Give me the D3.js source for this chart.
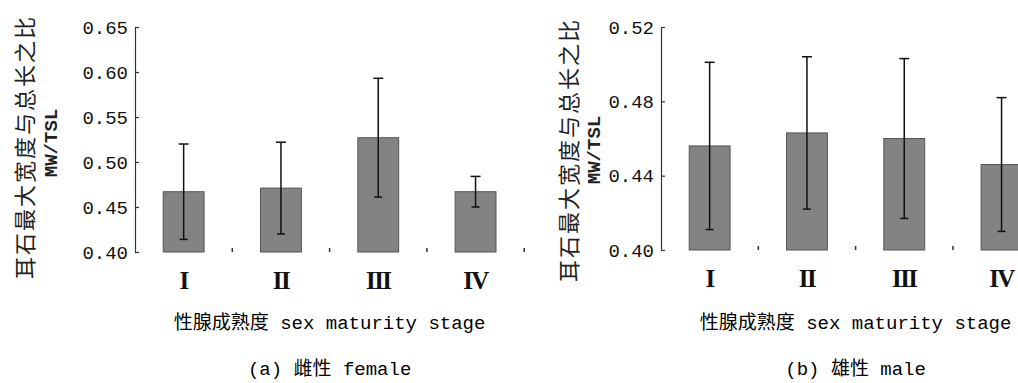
<!DOCTYPE html>
<html>
<head>
<meta charset="utf-8">
<script src="https://cdn.jsdelivr.net/npm/d3@7"></script>
<style>
  body { margin: 0; background: #fff; }
  svg { display: block; }
</style>
</head>
<body>
<div id="chart"></div>
<script>
// data
const stages = ["I", "II", "III", "IV"];
const femaleMean = [0.467, 0.471, 0.527, 0.467];
const femaleSd = [0.053, 0.051, 0.066, 0.017];
const maleMean = [0.456, 0.463, 0.460, 0.446];
const maleSd = [0.045, 0.041, 0.043, 0.036];
const femaleTicks = [0.40, 0.45, 0.50, 0.55, 0.60, 0.65];
const maleTicks = [0.40, 0.44, 0.48, 0.52];
const yTitle = "耳石最大宽度与总长之比";
const yUnit = "MW/TSL";
const xTitle = "性腺成熟度 sex maturity stage";

const W = 1018, H = 383;
const latin = "'Liberation Mono', 'Noto Sans CJK SC', monospace";
const cjk = "'Noto Sans CJK SC', 'Liberation Mono', sans-serif";

const svg = d3.select("#chart").append("svg")
  .attr("width", W).attr("height", H);

const drawPanel = (p) => {
  const g = svg.append("g");

  const y = d3.scaleLinear()
    .domain(d3.extent(p.ticks))
    .range([p.bottom, p.top]);

  const x = d3.scaleBand()
    .domain(stages)
    .range([p.left, p.left + 4 * 97.3])
    .paddingInner(0.58)
    .paddingOuter(0.29);

  // y axis, ticks pointing inward
  const yAxis = d3.axisLeft(y)
    .tickValues(p.ticks)
    .tickFormat(d3.format(".2f"))
    .tickSizeInner(-4)
    .tickSizeOuter(0)
    .tickPadding(7);

  const ya = g.append("g")
    .attr("transform", `translate(${p.left},0)`)
    .call(yAxis);
  ya.select(".domain").attr("stroke", "#333").attr("stroke-width", 1.2);
  ya.selectAll(".tick line").attr("stroke", "#333").attr("stroke-width", 1.2);
  ya.selectAll("text")
    .attr("font-family", latin)
    .attr("font-size", 19)
    .attr("fill", "#111");

  const rows = stages.map((s, i) => ({ s, m: p.mean[i], sd: p.sd[i] }));

  // bars
  g.selectAll("rect.bar").data(rows).enter()
    .append("rect")
    .attr("class", "bar")
    .attr("x", (d) => x(d.s))
    .attr("width", x.bandwidth())
    .attr("y", (d) => y(d.m))
    .attr("height", (d) => y(y.domain()[0]) - y(d.m))
    .attr("fill", "#838383")
    .attr("stroke", "#555")
    .attr("stroke-width", 1);

  // error bars
  const cx = (d) => x(d.s) + x.bandwidth() / 2;
  g.selectAll("line.err").data(rows).enter()
    .append("line")
    .attr("x1", cx).attr("x2", cx)
    .attr("y1", (d) => y(d.m + d.sd))
    .attr("y2", (d) => y(d.m - d.sd))
    .attr("stroke", "#111").attr("stroke-width", 1.5);
  g.selectAll("line.capTop").data(rows).enter()
    .append("line")
    .attr("x1", (d) => cx(d) - 5).attr("x2", (d) => cx(d) + 5)
    .attr("y1", (d) => y(d.m + d.sd)).attr("y2", (d) => y(d.m + d.sd))
    .attr("stroke", "#111").attr("stroke-width", 1.5);
  g.selectAll("line.capBot").data(rows).enter()
    .append("line")
    .attr("x1", (d) => cx(d) - 4).attr("x2", (d) => cx(d) + 4)
    .attr("y1", (d) => y(d.m - d.sd)).attr("y2", (d) => y(d.m - d.sd))
    .attr("stroke", "#111").attr("stroke-width", 1.5);

  // small ticks between categories on the baseline
  const base = y(y.domain()[0]);
  const bounds = stages.slice(1).map((s) => x(s) - x.step() * x.paddingInner() / 2)
    .concat([x(stages[3]) + x.bandwidth() + x.step() * x.paddingInner() / 2]);
  g.selectAll("line.xt").data(bounds).enter()
    .append("line")
    .attr("x1", (d) => d).attr("x2", (d) => d)
    .attr("y1", base - 4).attr("y2", base)
    .attr("stroke", "#333").attr("stroke-width", 1.5);

  // category labels
  g.selectAll("text.cat").data(stages).enter()
    .append("text")
    .attr("x", (d) => x(d) + x.bandwidth() / 2)
    .attr("y", base + 37)
    .attr("text-anchor", "middle")
    .attr("font-family", "'Liberation Serif', 'DejaVu Serif', serif")
    .attr("font-size", 25)
    .attr("font-weight", "bold")
    .attr("letter-spacing", -1.5)
    .attr("fill", "#111")
    .text((d) => d);

  const mid = (x.range()[0] + x.range()[1]) / 2;

  // x title and caption
  g.append("text")
    .attr("x", mid).attr("y", 329)
    .attr("text-anchor", "middle")
    .attr("font-family", latin)
    .attr("font-size", 19)
    .attr("fill", "#000")
    .text(xTitle);
  g.append("text")
    .attr("x", mid).attr("y", 375)
    .attr("text-anchor", "middle")
    .attr("font-family", latin)
    .attr("font-size", 19)
    .attr("fill", "#000")
    .text(p.caption);

  // rotated y titles
  g.append("text")
    .attr("transform", `translate(${p.t1x},${p.t1y}) rotate(-90)`)
    .attr("text-anchor", "middle")
    .attr("dominant-baseline", "central")
    .attr("font-family", cjk)
    .attr("font-size", 22)
    .attr("letter-spacing", 2)
    .attr("fill", "#222")
    .text(yTitle);
  g.append("text")
    .attr("transform", `translate(${p.t2x},${p.t2y}) rotate(-90)`)
    .attr("text-anchor", "middle")
    .attr("dominant-baseline", "central")
    .attr("font-family", latin)
    .attr("font-size", 19)
    .attr("font-weight", "bold")
    .attr("fill", "#222")
    .text(yUnit);
};

drawPanel({
  ticks: femaleTicks, mean: femaleMean, sd: femaleSd,
  left: 135, top: 27, bottom: 252,
  caption: "(a) 雌性 female",
  t1x: 23, t1y: 147, t2x: 52, t2y: 143
});

drawPanel({
  ticks: maleTicks, mean: maleMean, sd: maleSd,
  left: 661, top: 27, bottom: 250,
  caption: "(b) 雄性  male",
  t1x: 567, t1y: 150, t2x: 595, t2y: 150
});
</script>
</body>
</html>
